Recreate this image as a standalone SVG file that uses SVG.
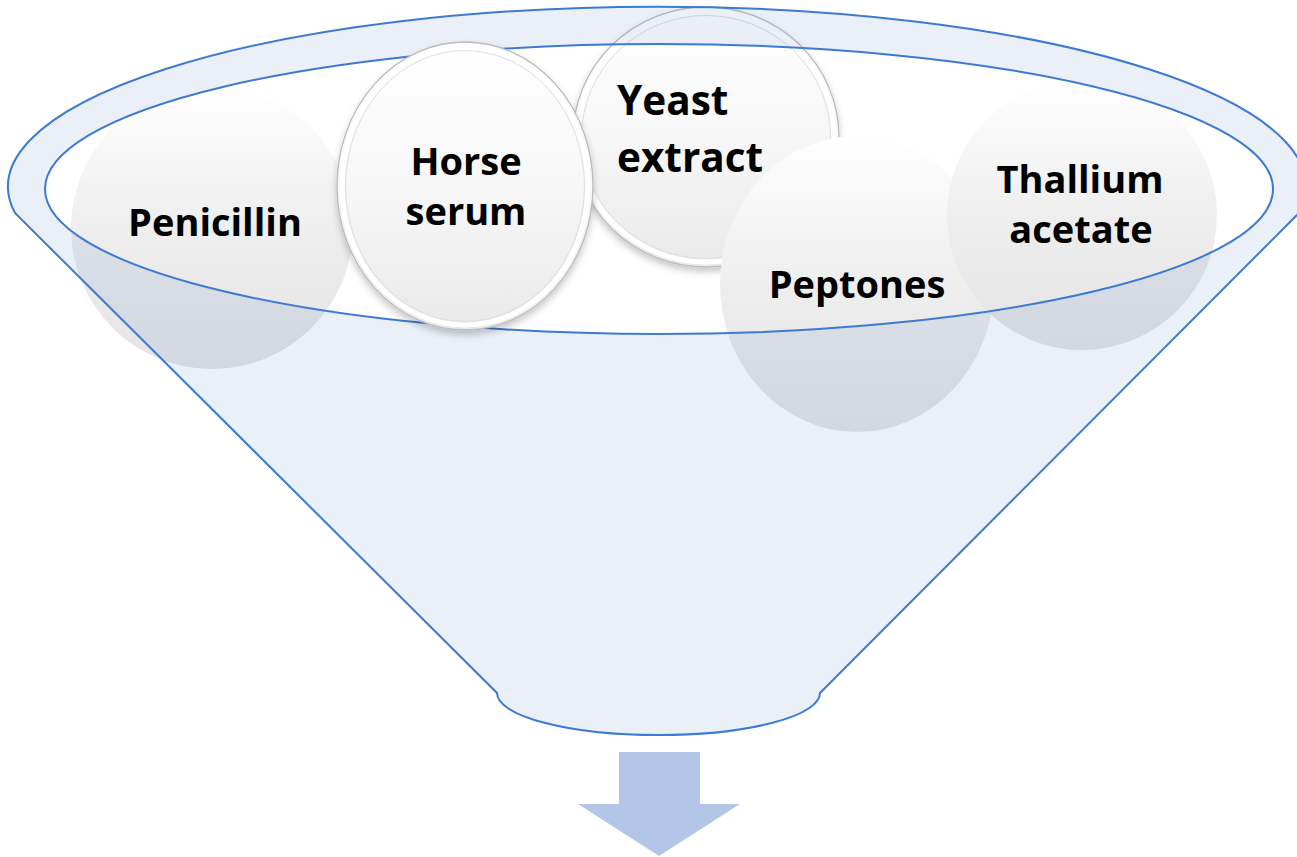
<svg xmlns="http://www.w3.org/2000/svg" width="1297" height="857" viewBox="0 0 1297 857">
  <style>
    .lbl { font-family: "Open Sans", "Noto Sans", "Liberation Sans", sans-serif; font-weight: 700; font-size: 38px; fill: #000000; }
    .big { font-size: 40.5px; }
    .mid { text-anchor: middle; }
    .plain { fill: url(#sphere); }
    .bevel-outer { fill: url(#bevelfill); stroke: #bcbcbc; stroke-width: 1.3; }
    .bevel-band { fill: none; stroke: #ffffff; stroke-width: 5; }
    .bevel-inner { fill: none; stroke: #dedede; stroke-width: 1; }
    .funnel-line { fill: none; stroke: #3d7ad2; stroke-width: 2; }
  </style>
  <defs>
    <linearGradient id="sphere" x1="0" y1="0" x2="0" y2="1">
      <stop offset="0" stop-color="#ffffff"/>
      <stop offset="0.5" stop-color="#eeeeee"/>
      <stop offset="1" stop-color="#e4e4e4"/>
    </linearGradient>
    <linearGradient id="bevelfill" x1="0" y1="0" x2="0" y2="1">
      <stop offset="0" stop-color="#ffffff"/>
      <stop offset="0.55" stop-color="#f6f6f6"/>
      <stop offset="1" stop-color="#e9e9e9"/>
    </linearGradient>
    <filter id="shadow" x="-20%" y="-20%" width="140%" height="140%">
      <feDropShadow dx="0" dy="4" stdDeviation="3.5" flood-color="#000000" flood-opacity="0.22"/>
    </filter>
  </defs>

  <rect x="0" y="0" width="1297" height="857" fill="#ffffff"/>

  <g id="node-penicillin">
    <ellipse class="plain" cx="212" cy="228" rx="141" ry="141"/>
    <text class="lbl mid" x="215" y="236">Penicillin</text>
  </g>

  <g id="node-yeast-extract">
    <g filter="url(#shadow)">
      <ellipse class="bevel-outer" cx="706" cy="137" rx="133" ry="130"/>
    </g>
    <ellipse class="bevel-band" cx="706" cy="137" rx="128" ry="125"/>
    <ellipse class="bevel-inner" cx="706" cy="137" rx="124.5" ry="121.5"/>
    <text class="lbl big" x="617" y="115">Yeast</text>
    <text class="lbl big" x="617" y="172">extract</text>
  </g>

  <g id="node-peptones">
    <ellipse class="plain" cx="857" cy="284" rx="137" ry="148"/>
    <text class="lbl mid" x="857" y="298">Peptones</text>
  </g>

  <g id="node-thallium-acetate">
    <ellipse class="plain" cx="1082" cy="215" rx="135" ry="135"/>
    <text class="lbl mid" x="1080" y="193">Thallium</text>
    <text class="lbl mid" x="1081" y="243">acetate</text>
  </g>

  <g id="funnel">
    <path fill="#4472c4" fill-opacity="0.115" fill-rule="evenodd"
      d="M 15 213 A 649 180 0 1 1 1299 213 L 820 693 A 161 42 0 0 1 497 693 Z
         M 45 189 A 614 145 0 1 0 1273 189 A 614 145 0 1 0 45 189 Z"/>
    <path class="funnel-line" d="M 15 213 A 649 180 0 1 1 1299 213 L 820 693 A 161 42 0 0 1 497 693 Z"/>
    <ellipse class="funnel-line" cx="659" cy="189" rx="614" ry="145"/>
  </g>

  <g id="node-horse-serum">
    <g filter="url(#shadow)">
      <ellipse class="bevel-outer" cx="465" cy="186" rx="128" ry="144"/>
    </g>
    <ellipse class="bevel-band" cx="465" cy="186" rx="123" ry="139"/>
    <ellipse class="bevel-inner" cx="465" cy="186" rx="119.5" ry="135.5"/>
    <text class="lbl mid" x="466" y="175">Horse</text>
    <text class="lbl mid" x="466" y="225">serum</text>
  </g>

  <g id="connectors">
    <polygon id="output-arrow" points="619,752 700,752 700,804 740,804 659,856 578,804 619,804" fill="#b3c6e7"/>
  </g>
</svg>
